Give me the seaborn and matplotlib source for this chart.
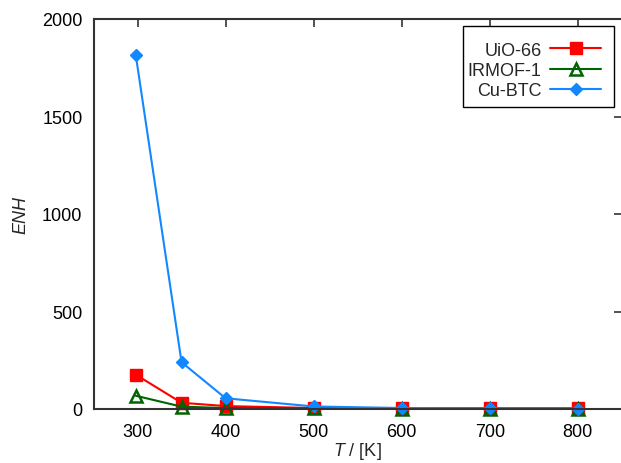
import matplotlib
matplotlib.use("Agg")
import matplotlib.pyplot as plt
import matplotlib.patches as mpatches
import seaborn as sns
import pandas as pd

temps = [298, 350, 400, 500, 600, 700, 800]
uio66 = [176, 32, 15, 5, 3, 3, 3]
irmof1 = [68, 12, 5, 3, 2, 2, 2]
cubtc = [1815, 240, 55, 13, 5, 3, 2]
series_names = ["UiO-66", "IRMOF-1", "Cu-BTC"]
xticks = [300, 400, 500, 600, 700, 800]
yticks = [0, 500, 1000, 1500, 2000]

sns.set_style("white")
plt.rcParams["font.family"] = ["Liberation Sans", "DejaVu Sans"]
plt.rcParams["mathtext.fontset"] = "custom"
plt.rcParams["mathtext.rm"] = "Liberation Sans"
plt.rcParams["mathtext.it"] = "Liberation Sans:italic"

df = pd.DataFrame({
    "T": temps * 3,
    "ENH": uio66 + irmof1 + cubtc,
    "material": sum([[n] * len(temps) for n in series_names], []),
})

W, H = 621, 464
fig = plt.figure(figsize=(W / 100, H / 100), dpi=100)
left_px, right_px, top_px, bottom_px = 93.5, 621.8, 20, 410
ax = fig.add_axes([left_px / W, 1 - bottom_px / H,
                   (right_px - left_px) / W, (bottom_px - top_px) / H])

styles = {
    "UiO-66": dict(color="#ff0000", marker="s", markersize=9, mfc="#ff0000", mec="#ff0000"),
    "IRMOF-1": dict(color="#006400", marker="^", markersize=8, mfc="none", mec="#006400", mew=1.8),
    "Cu-BTC": dict(color="#1188ff", marker="D", markersize=6, mfc="#1188ff", mec="#1188ff"),
}
for name in series_names:
    sub = df[df["material"] == name]
    st = styles[name]
    sns.lineplot(data=sub, x="T", y="ENH", ax=ax, label=name, linewidth=1.5,
                 color=st["color"], marker=st["marker"], markersize=st["markersize"],
                 markerfacecolor=st["mfc"], markeredgecolor=st["mec"],
                 markeredgewidth=st.get("mew", 1.0), clip_on=False)

ax.set_xlim(250, 850)
ax.set_ylim(0, 2000)
ax.set_xticks(xticks)
ax.set_yticks(yticks)
ax.tick_params(direction="in", length=6, width=1.2, colors="#333333",
               top=True, right=True, labelsize=13, pad=8, labelcolor="black")
ax.tick_params(axis="x", pad=10)
for s in ax.spines.values():
    s.set_color("#333333")
    s.set_linewidth(1.5)
    s.set_visible(True)
ax.spines["right"].set_visible(False)

ax.set_xlabel("$T$ / [K]", fontsize=13, labelpad=0)
ax.set_ylabel("ENH", fontsize=13, style="italic", labelpad=9)

leg = ax.legend(loc="upper right", bbox_to_anchor=(1, 1 - 2 / 390),
                markerfirst=False, fontsize=13, frameon=False,
                borderaxespad=0.4, handlelength=2.8, handletextpad=0.5,
                labelspacing=0.17, borderpad=0.75)
leg.set_zorder(6)

# legend frame (gnuplot-style box: tight sides, roomy top/bottom)
box = mpatches.Rectangle((463 / W, 1 - 108 / H), 151 / W, 81 / H,
                         transform=fig.transFigure, facecolor="white",
                         edgecolor="black", linewidth=1.0, zorder=5, clip_on=False)
ax.add_patch(box)

fig.savefig("out.png", dpi=100)
